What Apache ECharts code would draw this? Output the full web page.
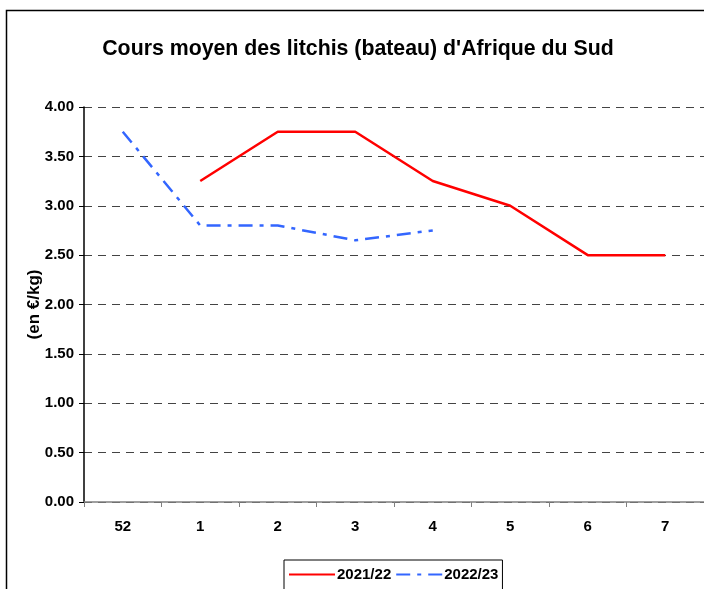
<!DOCTYPE html>
<html>
<head>
<meta charset="utf-8">
<script src="https://cdn.jsdelivr.net/npm/echarts@6/dist/echarts.min.js"></script>
<style>
html,body{margin:0;padding:0;background:#fff;}
#main{width:704px;height:589px;}
</style>
</head>
<body>
<div id="main"></div>
<script>
// semaines
var weeks = ['52', '1', '2', '3', '4', '5', '6', '7'];
// cours moyen en €/kg
var s2122 = [null, 3.25, 3.75, 3.75, 3.25, 3.00, 2.50, 2.50];
var s2223 = [3.75, 2.80, 2.80, 2.65, 2.75, null, null, null];

var font = '"Liberation Sans", Arial, sans-serif';
var chart = echarts.init(document.getElementById('main'));

var option = {
    animation: false,
    title: {
        text: "Cours moyen des litchis (bateau) d'Afrique du Sud",
        left: 353,
        top: 34,
        textAlign: 'center',
        textStyle: {
            fontFamily: font,
            fontSize: 21.3,
            fontWeight: 'bold',
            color: '#000'
        }
    },
    graphic: [{
        type: 'rect',
        shape: {x: 6.5, y: 10.5, width: 900, height: 800},
        style: {fill: 'none', stroke: '#000', lineWidth: 1.5},
        z: -1
    }],
    legend: {
        left: 284,
        top: 560,
        orient: 'horizontal',
        borderColor: '#000',
        borderWidth: 1,
        padding: [7, 4, 12, 4],
        itemWidth: 46,
        itemHeight: 10,
        itemGap: 4,
        itemStyle: {opacity: 0},
        textStyle: {
            fontFamily: font,
            fontSize: 15,
            fontWeight: 'bold',
            color: '#000',
            padding: [0, 0, 0, -3]
        },
        data: ['2021/22', '2022/23']
    },
    grid: {
        left: 84,
        top: 107,
        right: 0,
        bottom: 87,
        containLabel: false
    },
    xAxis: {
        type: 'category',
        data: weeks,
        boundaryGap: true,
        axisLine: {lineStyle: {color: '#808080', width: 1.5}},
        axisTick: {show: true, length: 5, lineStyle: {color: '#808080'}},
        axisLabel: {
            margin: 17,
            fontFamily: font,
            fontSize: 15,
            fontWeight: 'bold',
            color: '#000'
        }
    },
    yAxis: {
        type: 'value',
        min: 0,
        max: 4,
        interval: 0.5,
        name: '(en €/kg)',
        nameLocation: 'middle',
        nameGap: 41,
        nameRotate: 90,
        nameMoveOverlap: false,
        nameTextStyle: {
            fontFamily: font,
            fontSize: 17,
            fontWeight: 'bold',
            color: '#000'
        },
        axisLine: {show: true, lineStyle: {color: '#000', width: 1.5}},
        axisTick: {show: true, length: 5, lineStyle: {color: '#000'}},
        axisLabel: {
            margin: 10,
            fontFamily: font,
            fontSize: 15,
            fontWeight: 'bold',
            color: '#000',
            formatter: function (v) {
                return v.toFixed(2);
            }
        },
        splitLine: {
            show: true,
            lineStyle: {color: '#444', type: [8, 6], width: 1}
        }
    },
    series: [{
        name: '2021/22',
        type: 'line',
        data: s2122,
        symbol: 'none',
        connectNulls: false,
        lineStyle: {color: '#ff0000', width: 2.5},
        itemStyle: {color: '#ff0000'},
        z: 3
    }, {
        name: '2022/23',
        type: 'line',
        data: s2223,
        symbol: 'none',
        connectNulls: false,
        lineStyle: {color: '#3366ff', width: 2.5, type: [14, 7, 4, 7]},
        itemStyle: {color: '#3366ff'},
        z: 2
    }]
};

chart.setOption(option);
</script>
</body>
</html>
